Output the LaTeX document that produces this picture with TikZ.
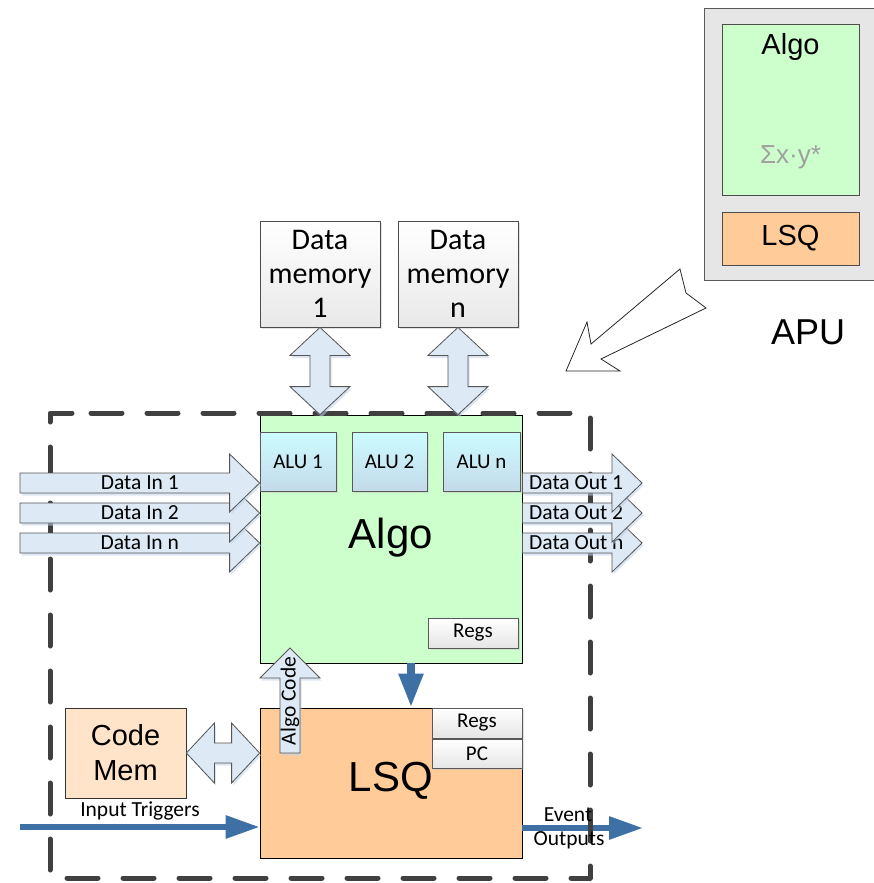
\documentclass[tikz,border=0pt]{standalone}
\usepackage{fontspec}
\setmainfont{Liberation Sans}
\newfontfamily\calibri{Carlito}
\usetikzlibrary{calc,arrows.meta,shadows}

\definecolor{hollowfill}{RGB}{221,233,245}
\definecolor{hollowline}{RGB}{85,85,85}
\definecolor{hollowshade}{RGB}{190,210,232}
\definecolor{algogreen}{RGB}{204,255,204}
\definecolor{lsqorange}{RGB}{255,204,153}
\definecolor{codepeach}{RGB}{255,228,201}
\definecolor{apugray}{RGB}{230,230,230}
\definecolor{flowblue}{RGB}{62,112,166}
\definecolor{dashgray}{RGB}{64,64,64}
\definecolor{sigmagray}{RGB}{160,160,160}
\definecolor{alutop}{RGB}{204,252,255}
\definecolor{alubottom}{RGB}{196,218,234}

% one-way block arrow: [style]{from}{to}{shaft half}{head half}{head length}
\newcommand{\onewayarrow}[6][]{%
  \path ($(#3)!#6!(#2)$) coordinate (hb);
  \draw[#1] ($(#2)!#4!90:(#3)$) -- ($(hb)!#4!90:(#3)$) -- ($(hb)!#5!90:(#3)$)
    -- (#3) -- ($(hb)!#5!-90:(#3)$) -- ($(hb)!#4!-90:(#3)$)
    -- ($(#2)!#4!-90:(#3)$) -- cycle;}
% two-way block arrow, same arguments
\newcommand{\twowayarrow}[6][]{%
  \path ($(#2)!#6!(#3)$) coordinate (ha) ($(#3)!#6!(#2)$) coordinate (hb);
  \draw[#1] (#2) -- ($(ha)!#5!90:(#3)$) -- ($(ha)!#4!90:(#3)$)
    -- ($(hb)!#4!90:(#3)$) -- ($(hb)!#5!90:(#3)$) -- (#3)
    -- ($(hb)!#5!-90:(#3)$) -- ($(hb)!#4!-90:(#3)$)
    -- ($(ha)!#4!-90:(#3)$) -- ($(ha)!#5!-90:(#3)$) -- cycle;}

\tikzset{
  every node/.style={inner sep=0pt},
  hollow/.style={fill=hollowfill, draw=hollowline, line width=0.8pt, line join=miter,
    preaction={fill=hollowshade, opacity=0.55, transform canvas={xshift=1.5pt, yshift=-2.5pt}}},
  softshadow/.style={drop shadow={shadow xshift=2pt, shadow yshift=-2pt, fill=black!25, opacity=0.45}},
  membox/.style={draw=black!70, line width=0.8pt, top color=white, bottom color=black!9,
    softshadow, minimum width=120pt, minimum height=106pt, align=center,
    font=\calibri\fontsize{30}{34}\selectfont},
  alubox/.style={draw=black!65, line width=0.8pt, top color=alutop, bottom color=alubottom,
    softshadow, minimum height=59pt, font=\calibri\fontsize{21}{23}\selectfont},
  regbox/.style={draw=black!65, line width=0.8pt, top color=white, bottom color=black!10,
    softshadow, minimum width=90pt, font=\calibri\fontsize{21}{23}\selectfont},
  smalltext/.style={font=\calibri\fontsize{21.5}{23}\selectfont},
  bigtext/.style={font=\fontsize{42}{46}\selectfont},
  flow/.style={draw=flowblue, line width=6pt, -{Triangle[length=34pt, width=22pt]}},
  dashframe/.style={draw=dashgray, line width=5pt, dash pattern=on 31pt off 25pt,
    line cap=round, line join=round}
}

\begin{document}
\begin{tikzpicture}[x=1pt, y=-1pt]
\useasboundingbox (0,0) rectangle (874,883);

% ---- APU overview ----
\node[draw=black!65, line width=0.8pt, fill=apugray, minimum width=176pt, minimum height=272pt,
  anchor=north west] (apu) at (704,8) {};
\node[draw=black!70, line width=0.8pt, fill=algogreen, minimum width=137pt, minimum height=171pt]
  (apualgo) at (790.5,109.5) {};
\node[font=\fontsize{29}{32}\selectfont] (apualgotxt) at (790.5,47) {Algo};
\node[text=sigmagray, font=\fontsize{26}{28}\selectfont] (sigma) at (790.5,157) {Σx·y*};
\node[draw=black!70, line width=0.8pt, fill=lsqorange, minimum width=137pt, minimum height=53pt,
  font=\fontsize{29}{32}\selectfont] (apulsq) at (790.5,238.5) {LSQ};
\node[font=\fontsize{36}{40}\selectfont] (apulabel) at (808,332) {APU};

% pointer from the APU to its detailed view
\draw[draw=black!85, fill=white, line width=0.8pt] (566,371) -- (587,322) -- (591,344)
  -- (680,269) -- (686,293) -- (706,308) -- (601,359) -- (620,371) -- cycle;

% ---- trigger and event lines (under the frame) ----
\coordinate (trigin) at (20,827);
\coordinate (evout) at (643,828);

% ---- main blocks ----
\node[draw=black, line width=0.8pt, fill=algogreen, minimum width=262pt, minimum height=248pt]
  (algo) at (391,539) {};
\node[draw=black, line width=0.8pt, fill=lsqorange, minimum width=262pt, minimum height=150pt]
  (lsq) at (391,783) {};

\draw[flow] (trigin) -- (lsq.west |- trigin);
\draw[flow] (lsq.east |- evout) -- (evout);

% ---- dashed frame ----
\draw[dashframe] (72,413) -- (50,413) -- (50,878) -- (590,878) -- (590,413) -- cycle;

% ---- block labels ----
\node[bigtext] (algotxt) at (391,538) {Algo};
\node[bigtext] (lsqtxt) at (391,781) {LSQ};

% ---- ALUs and registers ----
\node[alubox, minimum width=76pt] (alu1) at (298,461.5) {ALU 1};
\node[alubox, minimum width=75pt] (alu2) at (389.5,461.5) {ALU 2};
\node[alubox, minimum width=77pt] (alun) at (481.5,461.5) {ALU n};
\node[regbox, minimum height=30pt] (algoregs) at (473,633) {Regs};
\node[regbox, minimum height=30pt] (lsqregs) at (477,723) {Regs};
\node[regbox, minimum height=29pt] (pc) at (477,753.5) {PC};

% ---- data memories ----
\node[membox] (dm1) at (320,274) {Data\\memory\\1};
\node[membox] (dmn) at (458,274) {Data\\memory\\n};
\twowayarrow[hollow]{dm1.south}{dm1.south |- algo.north}{10pt}{30pt}{28pt}
\twowayarrow[hollow]{dmn.south}{dmn.south |- algo.north}{10pt}{30pt}{28pt}

% ---- code memory ----
\node[draw=black!80, line width=0.8pt, fill=codepeach, minimum width=121pt, minimum height=90pt,
  align=center, font=\fontsize{29}{35}\selectfont] (cm) at (125.5,753) {Code\\Mem};
\twowayarrow[hollow]{cm.east}{cm.east -| lsq.west}{10pt}{30pt}{28pt}

% ---- algo code path ----
\coordinate (acbase) at (290,753);
\coordinate (actip) at (290,648);
\onewayarrow[hollow]{acbase}{actip}{10pt}{30pt}{30pt}
\node[smalltext, rotate=90] (actxt) at (290,701) {Algo Code};

% ---- Algo to LSQ control ----
\coordinate (ctl) at (411,0);
\draw[draw=flowblue, line width=8pt, -{Triangle[length=34pt, width=23pt]}]
  (algo.south -| ctl) -- (lsq.north -| ctl);

% ---- data inputs ----
\coordinate (in1) at (20,483);
\coordinate (in2) at (20,513);
\coordinate (inn) at (20,543);
\coordinate (in1e) at (algo.west |- in1);
\coordinate (in2e) at (algo.west |- in2);
\coordinate (inne) at (algo.west |- inn);
\onewayarrow[hollow]{inn}{inne}{10pt}{29pt}{30pt}
\node[smalltext] (inntxt) at ($(inn)!0.5!(inne)$) {Data In n};
\onewayarrow[hollow]{in2}{in2e}{10pt}{29pt}{30pt}
\node[smalltext] (in2txt) at ($(in2)!0.5!(in2e)$) {Data In 2};
\onewayarrow[hollow]{in1}{in1e}{10pt}{29pt}{30pt}
\node[smalltext] (in1txt) at ($(in1)!0.5!(in1e)$) {Data In 1};

% ---- data outputs ----
\coordinate (out1) at (642,483);
\coordinate (out2) at (642,513);
\coordinate (outn) at (642,543);
\coordinate (out1s) at (algo.east |- out1);
\coordinate (out2s) at (algo.east |- out2);
\coordinate (outns) at (algo.east |- outn);
\onewayarrow[hollow]{outns}{outn}{10pt}{29pt}{30pt}
\node[smalltext, anchor=west] (outntxt) at (529,543) {Data Out n};
\onewayarrow[hollow]{out2s}{out2}{10pt}{29pt}{30pt}
\node[smalltext, anchor=west] (out2txt) at (529,513) {Data Out 2};
\onewayarrow[hollow]{out1s}{out1}{10pt}{29pt}{30pt}
\node[smalltext, anchor=west] (out1txt) at (529,483) {Data Out 1};

% ---- trigger / event labels ----
\node[smalltext] (trigtxt) at (140,811) {Input Triggers};
\node[smalltext] (evtxt1) at (568,815) {Event};
\node[smalltext] (evtxt2) at (569,840) {Outputs};
\end{tikzpicture}
\end{document}
